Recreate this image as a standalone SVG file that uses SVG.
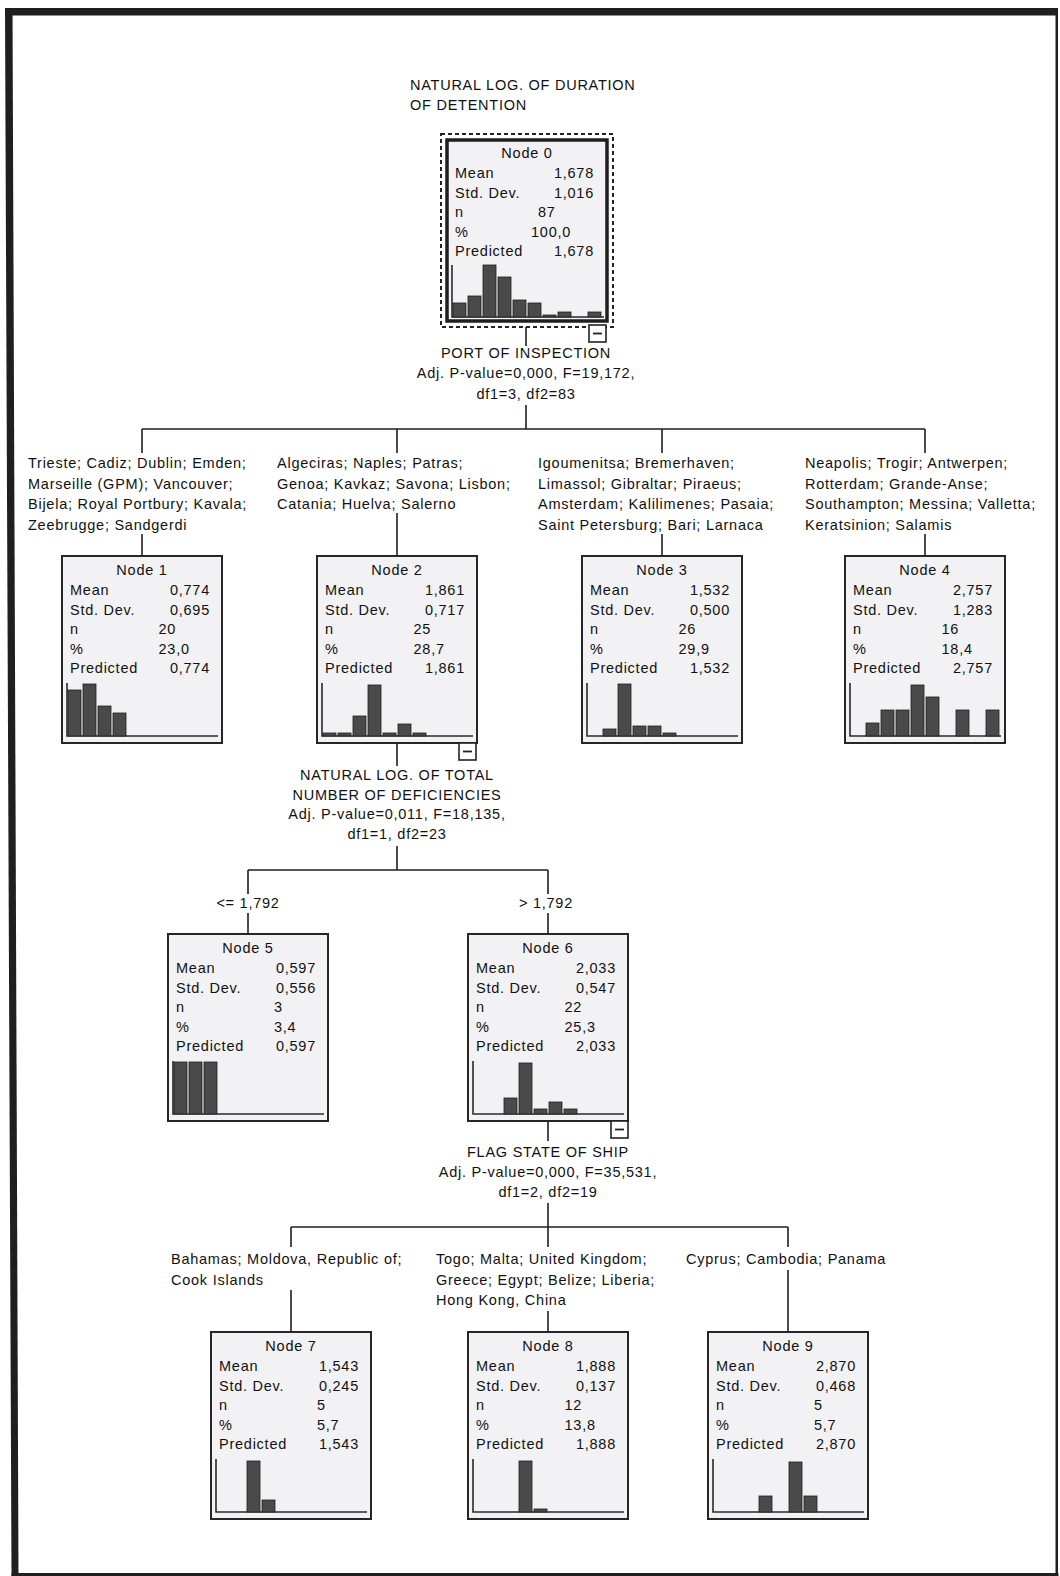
<svg xmlns="http://www.w3.org/2000/svg" width="1060" height="1576" viewBox="0 0 1060 1576">
  <style>
    .t { font-family: "Liberation Sans", Arial, sans-serif; font-size: 14.5px; letter-spacing: 0.75px; fill: #111111; }
    .c { text-anchor: middle; }
    .r { text-anchor: end; }
    .box { fill: #f2f2f4; stroke: #262626; stroke-width: 2; }
    .sel { fill: #f2f2f4; stroke: #1e1e1e; stroke-width: 3.5; }
    .focus { fill: none; stroke: #222; stroke-width: 2; stroke-dasharray: 4 3; }
    .axis { fill: none; stroke: #2a2a2a; stroke-width: 1.6; }
    .bars rect { fill: #4a4a4a; stroke: #1e1e1e; stroke-width: 0.8; }
    .tog rect { fill: #ffffff; stroke: #222; stroke-width: 1.6; }
    .tog path { stroke: #222; stroke-width: 1.8; }
    .conn path { fill: none; stroke: #1e1e1e; stroke-width: 1.6; }
    .frame { fill: #1f1f1f; }
  </style>

  <rect width="1060" height="1576" fill="#ffffff"/>

  <!-- page frame -->
  <g class="frame">
    <rect x="5" y="8" width="1053" height="7.5"/>
    <polygon points="5,8 12.5,8 18.5,1576 11.5,1576"/>
    <rect x="1055.5" y="8" width="2.5" height="1568"/>
    <rect x="11.5" y="1573" width="1047" height="3"/>
  </g>

  <!-- dependent variable title -->
  <g id="title">
    <text class="t" x="410" y="90">NATURAL LOG. OF DURATION</text>
    <text class="t" x="410" y="110">OF DETENTION</text>
  </g>

  <!-- connectors -->
  <g id="connectors" class="conn">
    <path d="M526,327V346"/>
    <path d="M526,405V429"/>
    <path d="M142,429H925"/>
    <path d="M142,429V453M397,429V453M662,429V453M925,429V453"/>
    <path d="M142,534V556M397,513V556M662,534V556M925,534V556"/>
    <path d="M397,743V766"/>
    <path d="M397,846V870"/>
    <path d="M248,870H548"/>
    <path d="M248,870V894M548,870V894"/>
    <path d="M248,913V934M548,913V934"/>
    <path d="M548,1121V1141"/>
    <path d="M548,1203V1227"/>
    <path d="M291,1227H788"/>
    <path d="M291,1227V1247M548,1227V1247M788,1227V1247"/>
    <path d="M291,1290V1332M548,1311V1332M788,1270V1332"/>
  </g>

  <!-- split descriptions -->
  <g id="split-0">
    <text class="t c" x="526" y="358">PORT OF INSPECTION</text>
    <text class="t c" x="526" y="378">Adj. P-value=0,000, F=19,172,</text>
    <text class="t c" x="526" y="399">df1=3, df2=83</text>
  </g>
  <g id="split-2">
    <text class="t c" x="397" y="780">NATURAL LOG. OF TOTAL</text>
    <text class="t c" x="397" y="800">NUMBER OF DEFICIENCIES</text>
    <text class="t c" x="397" y="819">Adj. P-value=0,011, F=18,135,</text>
    <text class="t c" x="397" y="839">df1=1, df2=23</text>
  </g>
  <g id="split-6">
    <text class="t c" x="548" y="1157">FLAG STATE OF SHIP</text>
    <text class="t c" x="548" y="1177">Adj. P-value=0,000, F=35,531,</text>
    <text class="t c" x="548" y="1197">df1=2, df2=19</text>
  </g>

  <!-- branch categories -->
  <g id="branch-labels">
    <text class="t" x="28" y="468">Trieste; Cadiz; Dublin; Emden;</text>
    <text class="t" x="28" y="488.5">Marseille (GPM); Vancouver;</text>
    <text class="t" x="28" y="509">Bijela; Royal Portbury; Kavala;</text>
    <text class="t" x="28" y="529.5">Zeebrugge; Sandgerdi</text>

    <text class="t" x="277" y="468">Algeciras; Naples; Patras;</text>
    <text class="t" x="277" y="488.5">Genoa; Kavkaz; Savona; Lisbon;</text>
    <text class="t" x="277" y="509">Catania; Huelva; Salerno</text>

    <text class="t" x="538" y="468">Igoumenitsa; Bremerhaven;</text>
    <text class="t" x="538" y="488.5">Limassol; Gibraltar; Piraeus;</text>
    <text class="t" x="538" y="509">Amsterdam; Kalilimenes; Pasaia;</text>
    <text class="t" x="538" y="529.5">Saint Petersburg; Bari; Larnaca</text>

    <text class="t" x="805" y="468">Neapolis; Trogir; Antwerpen;</text>
    <text class="t" x="805" y="488.5">Rotterdam; Grande-Anse;</text>
    <text class="t" x="805" y="509">Southampton; Messina; Valletta;</text>
    <text class="t" x="805" y="529.5">Keratsinion; Salamis</text>

    <text class="t c" x="248" y="908">&lt;= 1,792</text>
    <text class="t c" x="546" y="908">&gt; 1,792</text>

    <text class="t" x="171" y="1264">Bahamas; Moldova, Republic of;</text>
    <text class="t" x="171" y="1285">Cook Islands</text>

    <text class="t" x="436" y="1264">Togo; Malta; United Kingdom;</text>
    <text class="t" x="436" y="1285">Greece; Egypt; Belize; Liberia;</text>
    <text class="t" x="436" y="1305">Hong Kong, China</text>

    <text class="t" x="686" y="1264">Cyprus; Cambodia; Panama</text>
  </g>

  <!-- Node 0 (root, selected) -->
  <g id="node0" transform="translate(447,140)">
    <rect class="focus" x="-6" y="-6" width="172" height="193"/>
    <rect class="sel" width="160" height="181"/>
    <text class="t c" x="80" y="17.5">Node 0</text>
    <text class="t" x="8" y="38">Mean</text><text class="t r" x="147" y="38">1,678</text>
    <text class="t" x="8" y="58">Std. Dev.</text><text class="t r" x="147" y="58">1,016</text>
    <text class="t" x="8" y="77">n</text><text class="t" x="91" y="77">87</text>
    <text class="t" x="8" y="97">%</text><text class="t" x="84" y="97">100,0</text>
    <text class="t" x="8" y="116">Predicted</text><text class="t r" x="147" y="116">1,678</text>
    <path class="axis" d="M5,125V177H157"/>
    <g class="bars">
      <rect x="6" y="163" width="13" height="14"/>
      <rect x="21" y="156" width="13" height="21"/>
      <rect x="36" y="125" width="13" height="52"/>
      <rect x="51" y="137" width="13" height="40"/>
      <rect x="66" y="160" width="13" height="17"/>
      <rect x="81" y="163" width="13" height="14"/>
      <rect x="96" y="175" width="13" height="2"/>
      <rect x="111" y="172" width="13" height="5"/>
      <rect x="141" y="172" width="13" height="5"/>
    </g>
    <g class="tog" transform="translate(142,185)"><rect width="17" height="17"/><path d="M4,8.5H13"/></g>
  </g>

  <!-- Node 1 -->
  <g id="node1" transform="translate(62,556)">
    <rect class="box" width="160" height="187"/>
    <text class="t c" x="80" y="18.5">Node 1</text>
    <text class="t" x="8" y="39">Mean</text><text class="t r" x="148" y="39">0,774</text>
    <text class="t" x="8" y="58.5">Std. Dev.</text><text class="t r" x="148" y="58.5">0,695</text>
    <text class="t" x="8" y="78">n</text><text class="t" x="96.5" y="78">20</text>
    <text class="t" x="8" y="97.5">%</text><text class="t" x="96.5" y="97.5">23,0</text>
    <text class="t" x="8" y="117">Predicted</text><text class="t r" x="148" y="117">0,774</text>
    <path class="axis" d="M5,127V180H156"/>
    <g class="bars">
      <rect x="6" y="134" width="13" height="46"/>
      <rect x="21" y="128" width="13" height="52"/>
      <rect x="36" y="150" width="13" height="30"/>
      <rect x="51" y="157" width="13" height="23"/>
    </g>
  </g>

  <!-- Node 2 -->
  <g id="node2" transform="translate(317,556)">
    <rect class="box" width="160" height="187"/>
    <text class="t c" x="80" y="18.5">Node 2</text>
    <text class="t" x="8" y="39">Mean</text><text class="t r" x="148" y="39">1,861</text>
    <text class="t" x="8" y="58.5">Std. Dev.</text><text class="t r" x="148" y="58.5">0,717</text>
    <text class="t" x="8" y="78">n</text><text class="t" x="96.5" y="78">25</text>
    <text class="t" x="8" y="97.5">%</text><text class="t" x="96.5" y="97.5">28,7</text>
    <text class="t" x="8" y="117">Predicted</text><text class="t r" x="148" y="117">1,861</text>
    <path class="axis" d="M5,127V180H156"/>
    <g class="bars">
      <rect x="6" y="177" width="13" height="3"/>
      <rect x="21" y="177" width="13" height="3"/>
      <rect x="36" y="160" width="13" height="20"/>
      <rect x="51" y="129" width="13" height="51"/>
      <rect x="66" y="177" width="13" height="3"/>
      <rect x="81" y="168" width="13" height="12"/>
      <rect x="96" y="177" width="13" height="3"/>
    </g>
    <g class="tog" transform="translate(142,187)"><rect width="17" height="17"/><path d="M4,8.5H13"/></g>
  </g>

  <!-- Node 3 -->
  <g id="node3" transform="translate(582,556)">
    <rect class="box" width="160" height="187"/>
    <text class="t c" x="80" y="18.5">Node 3</text>
    <text class="t" x="8" y="39">Mean</text><text class="t r" x="148" y="39">1,532</text>
    <text class="t" x="8" y="58.5">Std. Dev.</text><text class="t r" x="148" y="58.5">0,500</text>
    <text class="t" x="8" y="78">n</text><text class="t" x="96.5" y="78">26</text>
    <text class="t" x="8" y="97.5">%</text><text class="t" x="96.5" y="97.5">29,9</text>
    <text class="t" x="8" y="117">Predicted</text><text class="t r" x="148" y="117">1,532</text>
    <path class="axis" d="M5,127V180H156"/>
    <g class="bars">
      <rect x="21" y="173" width="13" height="7"/>
      <rect x="36" y="128" width="13" height="52"/>
      <rect x="51" y="170" width="13" height="10"/>
      <rect x="66" y="170" width="13" height="10"/>
      <rect x="81" y="177" width="13" height="3"/>
    </g>
  </g>

  <!-- Node 4 -->
  <g id="node4" transform="translate(845,556)">
    <rect class="box" width="160" height="187"/>
    <text class="t c" x="80" y="18.5">Node 4</text>
    <text class="t" x="8" y="39">Mean</text><text class="t r" x="148" y="39">2,757</text>
    <text class="t" x="8" y="58.5">Std. Dev.</text><text class="t r" x="148" y="58.5">1,283</text>
    <text class="t" x="8" y="78">n</text><text class="t" x="96.5" y="78">16</text>
    <text class="t" x="8" y="97.5">%</text><text class="t" x="96.5" y="97.5">18,4</text>
    <text class="t" x="8" y="117">Predicted</text><text class="t r" x="148" y="117">2,757</text>
    <path class="axis" d="M5,127V180H156"/>
    <g class="bars">
      <rect x="21" y="167" width="13" height="13"/>
      <rect x="36" y="154" width="13" height="26"/>
      <rect x="51" y="154" width="13" height="26"/>
      <rect x="66" y="129" width="13" height="51"/>
      <rect x="81" y="141" width="13" height="39"/>
      <rect x="111" y="154" width="13" height="26"/>
      <rect x="141" y="154" width="13" height="26"/>
    </g>
  </g>

  <!-- Node 5 -->
  <g id="node5" transform="translate(168,934)">
    <rect class="box" width="160" height="187"/>
    <text class="t c" x="80" y="18.5">Node 5</text>
    <text class="t" x="8" y="39">Mean</text><text class="t r" x="148" y="39">0,597</text>
    <text class="t" x="8" y="58.5">Std. Dev.</text><text class="t r" x="148" y="58.5">0,556</text>
    <text class="t" x="8" y="78">n</text><text class="t" x="106" y="78">3</text>
    <text class="t" x="8" y="97.5">%</text><text class="t" x="106" y="97.5">3,4</text>
    <text class="t" x="8" y="117">Predicted</text><text class="t r" x="148" y="117">0,597</text>
    <path class="axis" d="M5,127V180H156"/>
    <g class="bars">
      <rect x="6" y="128" width="13" height="52"/>
      <rect x="21" y="128" width="13" height="52"/>
      <rect x="36" y="128" width="13" height="52"/>
    </g>
  </g>

  <!-- Node 6 -->
  <g id="node6" transform="translate(468,934)">
    <rect class="box" width="160" height="187"/>
    <text class="t c" x="80" y="18.5">Node 6</text>
    <text class="t" x="8" y="39">Mean</text><text class="t r" x="148" y="39">2,033</text>
    <text class="t" x="8" y="58.5">Std. Dev.</text><text class="t r" x="148" y="58.5">0,547</text>
    <text class="t" x="8" y="78">n</text><text class="t" x="96.5" y="78">22</text>
    <text class="t" x="8" y="97.5">%</text><text class="t" x="96.5" y="97.5">25,3</text>
    <text class="t" x="8" y="117">Predicted</text><text class="t r" x="148" y="117">2,033</text>
    <path class="axis" d="M5,127V180H156"/>
    <g class="bars">
      <rect x="36" y="164" width="13" height="16"/>
      <rect x="51" y="129" width="13" height="51"/>
      <rect x="66" y="175" width="13" height="5"/>
      <rect x="81" y="168" width="13" height="12"/>
      <rect x="96" y="175" width="13" height="5"/>
    </g>
    <g class="tog" transform="translate(143,187)"><rect width="17" height="17"/><path d="M4,8.5H13"/></g>
  </g>

  <!-- Node 7 -->
  <g id="node7" transform="translate(211,1332)">
    <rect class="box" width="160" height="187"/>
    <text class="t c" x="80" y="18.5">Node 7</text>
    <text class="t" x="8" y="39">Mean</text><text class="t r" x="148" y="39">1,543</text>
    <text class="t" x="8" y="58.5">Std. Dev.</text><text class="t r" x="148" y="58.5">0,245</text>
    <text class="t" x="8" y="78">n</text><text class="t" x="106" y="78">5</text>
    <text class="t" x="8" y="97.5">%</text><text class="t" x="106" y="97.5">5,7</text>
    <text class="t" x="8" y="117">Predicted</text><text class="t r" x="148" y="117">1,543</text>
    <path class="axis" d="M5,127V180H156"/>
    <g class="bars">
      <rect x="36" y="129" width="13" height="51"/>
      <rect x="51" y="168" width="13" height="12"/>
    </g>
  </g>

  <!-- Node 8 -->
  <g id="node8" transform="translate(468,1332)">
    <rect class="box" width="160" height="187"/>
    <text class="t c" x="80" y="18.5">Node 8</text>
    <text class="t" x="8" y="39">Mean</text><text class="t r" x="148" y="39">1,888</text>
    <text class="t" x="8" y="58.5">Std. Dev.</text><text class="t r" x="148" y="58.5">0,137</text>
    <text class="t" x="8" y="78">n</text><text class="t" x="96.5" y="78">12</text>
    <text class="t" x="8" y="97.5">%</text><text class="t" x="96.5" y="97.5">13,8</text>
    <text class="t" x="8" y="117">Predicted</text><text class="t r" x="148" y="117">1,888</text>
    <path class="axis" d="M5,127V180H156"/>
    <g class="bars">
      <rect x="51" y="129" width="13" height="51"/>
      <rect x="66" y="177" width="13" height="3"/>
    </g>
  </g>

  <!-- Node 9 -->
  <g id="node9" transform="translate(708,1332)">
    <rect class="box" width="160" height="187"/>
    <text class="t c" x="80" y="18.5">Node 9</text>
    <text class="t" x="8" y="39">Mean</text><text class="t r" x="148" y="39">2,870</text>
    <text class="t" x="8" y="58.5">Std. Dev.</text><text class="t r" x="148" y="58.5">0,468</text>
    <text class="t" x="8" y="78">n</text><text class="t" x="106" y="78">5</text>
    <text class="t" x="8" y="97.5">%</text><text class="t" x="106" y="97.5">5,7</text>
    <text class="t" x="8" y="117">Predicted</text><text class="t r" x="148" y="117">2,870</text>
    <path class="axis" d="M5,127V180H156"/>
    <g class="bars">
      <rect x="51" y="164" width="13" height="16"/>
      <rect x="81" y="130" width="13" height="50"/>
      <rect x="96" y="164" width="13" height="16"/>
    </g>
  </g>
</svg>
